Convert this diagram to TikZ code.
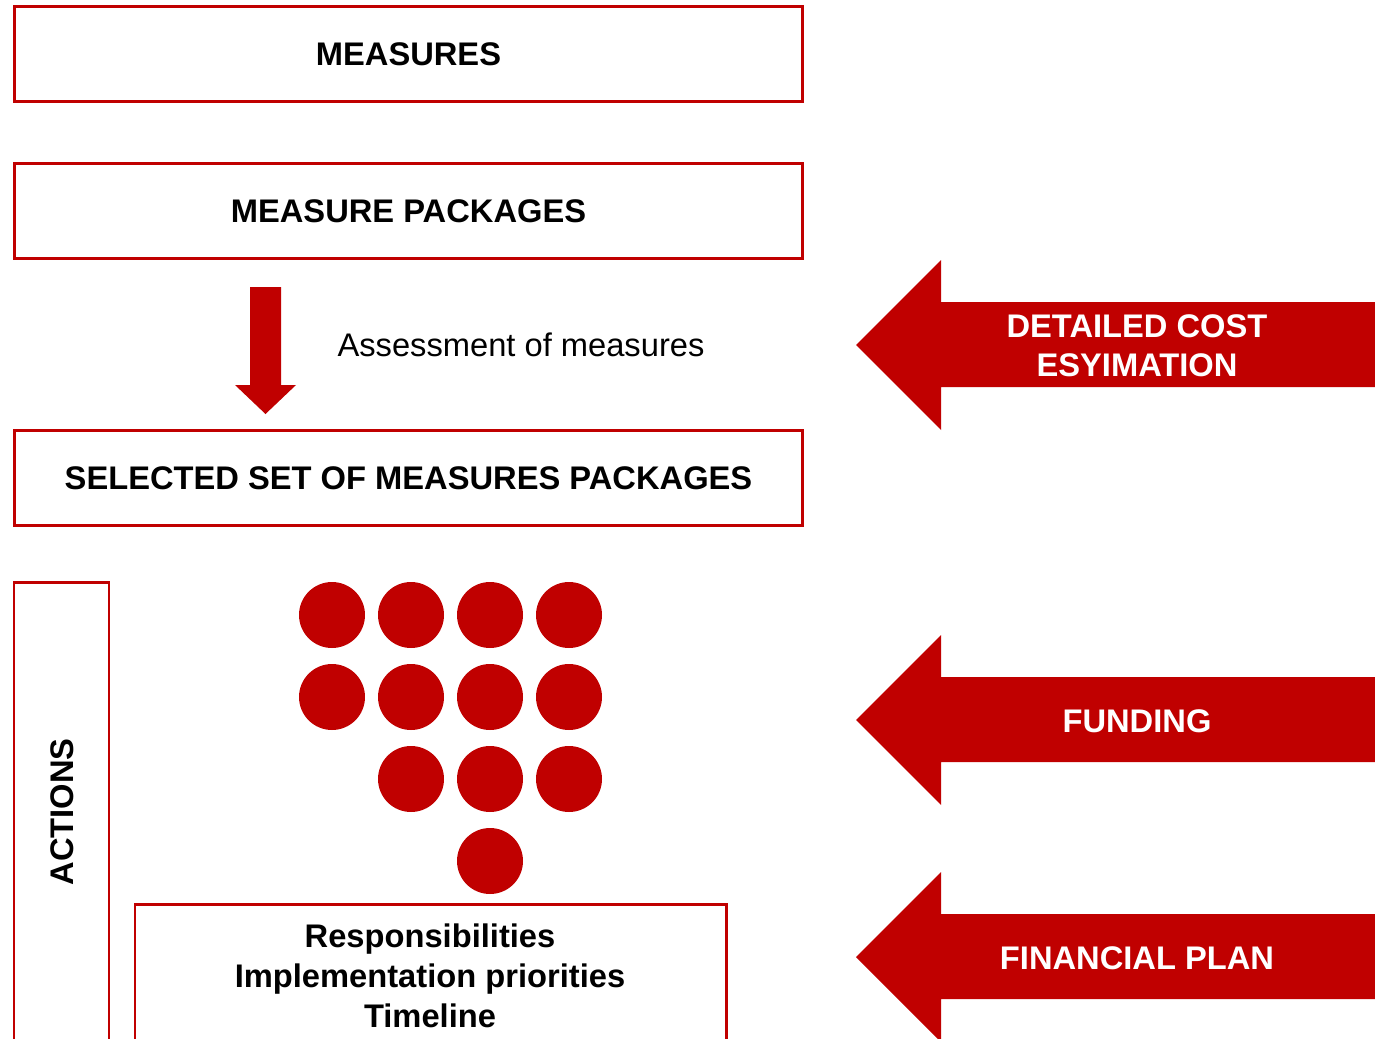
\documentclass[tikz,border=0pt]{standalone}
\usepackage{fontspec}
\setmainfont{Liberation Sans}
\definecolor{rojo}{HTML}{C00000}
\tikzset{
  caja/.style={draw=rojo, line width=1.7pt, inner sep=0pt, minimum width=15.78cm,
    minimum height=1.9cm, font=\fontsize{18.6}{22.7}\selectfont\bfseries},
  texto/.style={font=\fontsize{18.6}{22.7}\selectfont, align=center},
  negrita/.style={texto, font=\fontsize{18.6}{22.7}\selectfont\bfseries},
  flecha/.style={fill=rojo},
  punto/.style={circle, fill=rojo, inner sep=0pt, minimum size=1.32cm}
}
\begin{document}
\begin{tikzpicture}[x=0.02cm, y=-0.02cm]
    \clip (0,0) rectangle (1375,1038);

    % Dibuja las cajas de arriba
    \node[caja] (medidas) at (408.5,54) {MEASURES};
    \node[caja] (paquetes) at (408.5,211) {MEASURE PACKAGES};
    \node[caja] (seleccion) at (408.5,478) {SELECTED SET OF MEASURES PACKAGES};

    % Dibuja la flecha hacia abajo
    \fill[flecha] (250,287) -- (281,287) -- (281,385) -- (296,385) -- (265.5,414)
        -- (235,385) -- (250,385) -- cycle;
    \node[texto] (evaluacion) at (521,345) {Assessment of measures};

    % Dibuja las flechas grandes de la derecha
    \foreach \y/\nombre/\txt in {345/coste/{DETAILED COST\\ESYIMATION},
                                  720/fondos/FUNDING,
                                  957/plan/{FINANCIAL PLAN}} {
        \fill[flecha] (856,\y) -- (941,\y-85) -- (941,\y-43) -- (1380,\y-43)
            -- (1380,\y+42) -- (941,\y+42) -- (941,\y+85) -- cycle;
        \node[negrita, text=white, font=\fontsize{18.6}{22}\selectfont\bfseries]
            (\nombre) at (1137,\y+1) {\txt};
    }

    % Dibuja la caja de acciones
    \draw[rojo, line width=1.7pt] (14,1050) |- (109,582) -- (109,1050);
    \node[negrita, rotate=90] (acciones) at (62,812) {ACTIONS};

    % Dibuja los puntos
    \foreach \j/\y in {1/615, 2/697} {
        \foreach \i/\x in {1/332, 2/411, 3/490, 4/569}
            \node[punto] (p-\j-\i) at (\x,\y) {};
    }
    \foreach \i/\x in {2/411, 3/490, 4/569}
        \node[punto] (p-3-\i) at (\x,779) {};
    \node[punto] (p-4-3) at (490,861) {};

    % Dibuja la caja de responsabilidades
    \draw[rojo, line width=1.7pt] (135,1050) |- (726,904) -- (726,1050);
    \node[negrita] (tareas) at (430,976)
        {Responsibilities\\Implementation priorities\\Timeline};
\end{tikzpicture}
\end{document}
